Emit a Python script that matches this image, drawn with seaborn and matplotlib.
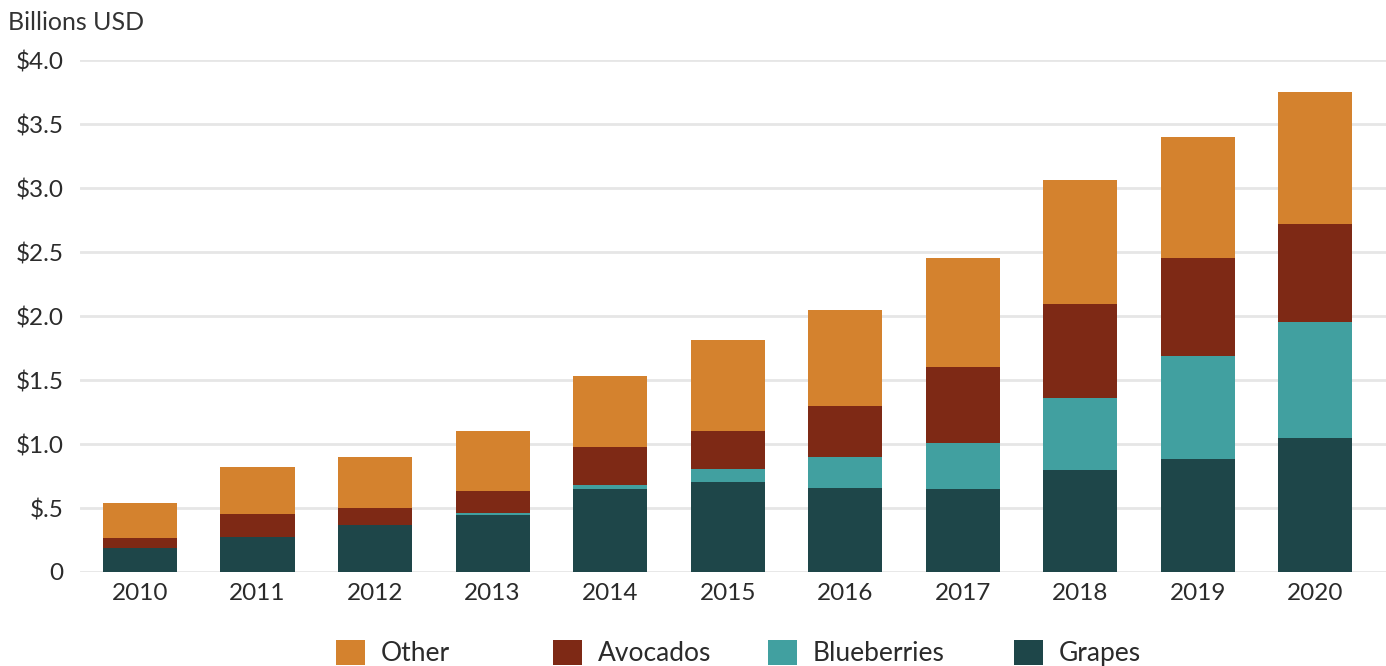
import matplotlib
matplotlib.use("Agg")
import matplotlib.pyplot as plt
from matplotlib.patches import Patch
import numpy as np
import pandas as pd
import seaborn as sns

# Values (billions USD)
years = ['2010', '2011', '2012', '2013', '2014', '2015', '2016', '2017', '2018', '2019', '2020']
grapes = [0.185, 0.275, 0.365, 0.448, 0.648, 0.705, 0.66, 0.645, 0.80, 0.886, 1.043]
blueberries = [0.0, 0.0, 0.0, 0.016, 0.032, 0.10, 0.24, 0.362, 0.56, 0.802, 0.914]
avocados = [0.081, 0.181, 0.138, 0.171, 0.297, 0.295, 0.393, 0.591, 0.732, 0.769, 0.763]
other = [0.27, 0.364, 0.395, 0.469, 0.553, 0.715, 0.751, 0.859, 0.974, 0.943, 1.03]

series = ['Other', 'Avocados', 'Blueberries', 'Grapes']
colors = {'Other': '#D4822E', 'Avocados': '#7E2915',
          'Blueberries': '#41A0A0', 'Grapes': '#1E4649'}

df = pd.DataFrame({'year': years, 'Grapes': grapes, 'Blueberries': blueberries,
                   'Avocados': avocados, 'Other': other})
# cumulative tops, stacked from the bottom: grapes, blueberries, avocados, other
df['cum_Grapes'] = df['Grapes']
df['cum_Blueberries'] = df['cum_Grapes'] + df['Blueberries']
df['cum_Avocados'] = df['cum_Blueberries'] + df['Avocados']
df['cum_Other'] = df['cum_Avocados'] + df['Other']

sns.set_style('white')
plt.rcParams['font.family'] = ['Lato', 'DejaVu Sans']

fig = plt.figure(figsize=(13.86, 6.66), dpi=100)
ax = fig.add_axes([80 / 1386, 94 / 666, 1306 / 1386, 512 / 666])

# draw the tallest layer first, then overlay the lower ones
for s in series:
    sns.barplot(data=df, x='year', y='cum_' + s, color=colors[s], width=0.63,
                saturation=1, linewidth=0, edgecolor='none', ax=ax, zorder=3)

ax.set_ylim(0, 4.0)
ax.set_xlim(-0.51, 10.6)
ax.set_yticks(np.arange(0, 4.01, 0.5))
ax.set_yticklabels(['0', '$.5', '$1.0', '$1.5', '$2.0', '$2.5', '$3.0', '$3.5', '$4.0'])
ax.set_xlabel('')
ax.set_ylabel('')
ax.grid(axis='y', color='#E6E6E6', linewidth=2, zorder=0)
ax.set_axisbelow(True)
for sp in ax.spines.values():
    sp.set_visible(False)
ax.tick_params(axis='both', length=0, labelsize=17.5, labelcolor='#2B2B2B')
ax.tick_params(axis='y', pad=12)
ax.tick_params(axis='x', pad=8)

fig.text(8 / 1386, 1 - 22 / 666, 'Billions USD', fontsize=18, color='#333333',
         ha='left', va='center')

# legend entries placed one by one like the reference
legend_x = [335, 552, 767, 1013]
for s, lx in zip(series, legend_x):
    leg = fig.legend(handles=[Patch(facecolor=colors[s], edgecolor='none')], labels=[s],
                     loc='center left', bbox_to_anchor=(lx / 1386 - 0.009, 1 - 653 / 666),
                     frameon=False, fontsize=19, handlelength=1.1, handleheight=1.1,
                     handletextpad=0.6, borderpad=0, labelcolor='#2B2B2B')

fig.savefig('out.png', dpi=100)
